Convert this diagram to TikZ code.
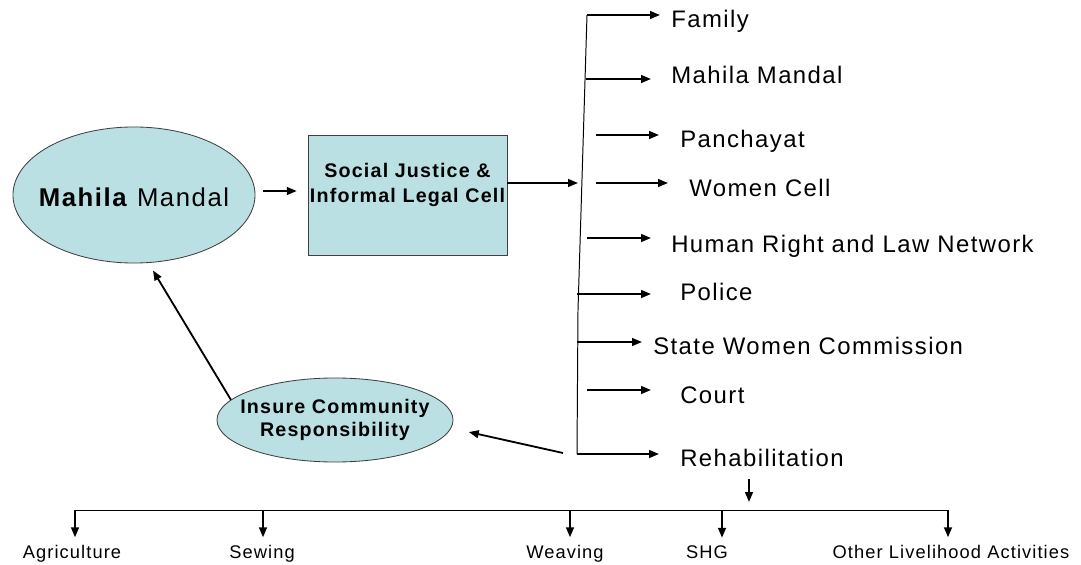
\documentclass[tikz,border=0pt]{standalone}
\usepackage{fontspec}
\setmainfont{Liberation Sans}[LetterSpace=6]
\usetikzlibrary{shapes,arrows.meta}
\definecolor{cellblue}{RGB}{187,224,227}
\tikzstyle{oval}=[ellipse,draw=black!75,fill=cellblue,line width=.6pt,inner sep=0pt]
\tikzstyle{cellbox}=[rectangle,draw=black!75,fill=cellblue,line width=.6pt,inner sep=0pt]
\tikzstyle{lbl}=[inner sep=0pt,anchor=base west,font=\fontsize{17}{20}\selectfont]
\tikzstyle{sublbl}=[inner sep=0pt,anchor=base,font=\fontsize{13}{16}\selectfont]
\tikzstyle{arr}=[-{Triangle[length=7pt,width=5.5pt]},line width=1.3pt]
\tikzstyle{trunk}=[line width=.7pt]

\begin{document}
\begin{tikzpicture}[x=0.025cm,y=-0.025cm]
\useasboundingbox (0,0) rectangle (1081,565);
\node[oval,minimum width=6.05cm,minimum height=3.4cm,label={[yshift=-.07cm,font=\fontsize{18.3}{22}\selectfont]center:\textbf{Mahila} Mandal}] (mm) at (134,195) {};
\node[cellbox,minimum width=4.975cm,minimum height=3cm,label={[yshift=.26cm,align=center,font=\fontsize{14}{17.7}\selectfont\bfseries]center:Social Justice \&\\Informal Legal Cell}] (cell) at (407.5,195) {};
\node[oval,minimum width=5.9cm,minimum height=2.1cm,label={[align=center,font=\fontsize{14}{16.5}\selectfont\bfseries]center:Insure Community\\Responsibility}] (ins) at (335,420) {};

\node[lbl] (family) at (671,28) {Family};
\node[lbl] (mahila) at (671,84) {Mahila Mandal};
\node[lbl] (panch) at (680,148) {Panchayat};
\node[lbl] (wcell) at (689,196) {Women Cell};
\node[lbl] (human) at (671,252) {Human Right and Law Network};
\node[lbl] (police) at (680,300) {Police};
\node[lbl] (swc) at (653,354) {State Women Commission};
\node[lbl] (court) at (680,403) {Court};
\node[lbl] (rehab) at (680,466) {Rehabilitation};

\node[sublbl] (agri) at (72,558) {Agriculture};
\node[sublbl] (sew) at (262,558) {Sewing};
\node[sublbl] (weav) at (565,558) {Weaving};
\node[sublbl] (shg) at (707,558) {SHG};
\node[sublbl] (other) at (951,558) {Other Livelihood Activities};

\coordinate (s1) at (587,15); \coordinate (s2) at (586,79); \coordinate (s3) at (596,135);
\coordinate (s4) at (596,183); \coordinate (s5) at (587,238); \coordinate (s6) at (577,294);
\coordinate (s7) at (577,342); \coordinate (s8) at (587,390); \coordinate (s9) at (577,454);
\coordinate (tmid) at (578,310); \coordinate (insfrom) at (563,453);
\coordinate (d1) at (75,510); \coordinate (d2) at (263,510); \coordinate (d3) at (570,510);
\coordinate (d4) at (722,510); \coordinate (d5) at (948,510); \coordinate (rd) at (749,510);

\draw[trunk] (s1) -- (tmid) -- (s9);
\draw[arr,shorten >=.275cm] (s1) -- (s1 -| family.west);
\draw[arr,shorten >=.5cm] (s2) -- (s2 -| mahila.west);
\draw[arr,shorten >=.525cm] (s3) -- (s3 -| panch.west);
\draw[arr,shorten >=.525cm] (s4) -- (s4 -| wcell.west);
\draw[arr,shorten >=.5cm] (s5) -- (s5 -| human.west);
\draw[arr,shorten >=.725cm] (s6) -- (s6 -| police.west);
\draw[arr,shorten >=.275cm] (s7) -- (s7 -| swc.west);
\draw[arr,shorten >=.725cm] (s8) -- (s8 -| court.west);
\draw[arr,shorten >=.525cm] (s9) -- (s9 -| rehab.west);

\draw[arr,shorten <=.2cm,shorten >=.27cm] ([yshift=.1cm]mm.east) -- ([yshift=.1cm]cell.west);
\draw[arr,shorten >=.45cm] ([yshift=.3cm]cell.east) -- ([yshift=.3cm]cell.east -| s4);
\draw[arr,shorten >=.45cm] (insfrom) -- (ins.-4);
\draw[arr,shorten >=.22cm] (ins.169) -- (mm.282);

\draw[arr,shorten <=.3cm,shorten >=.2cm] (rehab.south -| rd) -- (rd);
\draw[trunk] (d1) -- (d5);
\draw[arr,shorten >=.18cm] (d1) -- (d1 |- agri.north);
\draw[arr,shorten >=.18cm] (d2) -- (d2 |- sew.north);
\draw[arr,shorten >=.18cm] (d3) -- (d3 |- weav.north);
\draw[arr,shorten >=.18cm] (d4) -- (d4 |- shg.north);
\draw[arr,shorten >=.18cm] (d5) -- (d5 |- other.north);
\end{tikzpicture}
\end{document}
